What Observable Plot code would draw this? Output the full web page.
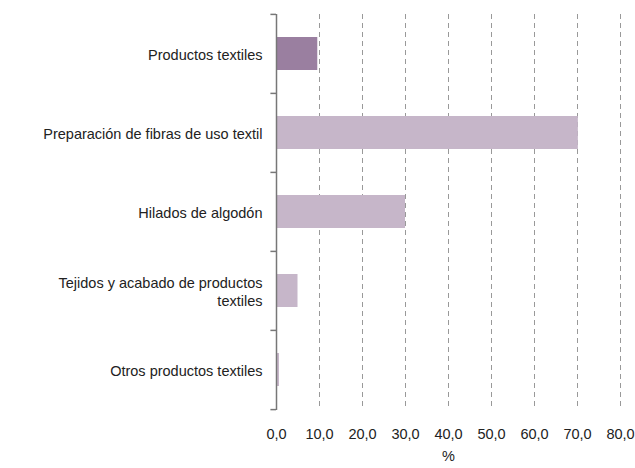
<!DOCTYPE html>
<html><head><meta charset="utf-8">
<script src="https://cdn.jsdelivr.net/npm/d3@7"></script>
<script src="https://cdn.jsdelivr.net/npm/@observablehq/plot@0.6"></script>
<style>body{margin:0;background:#fff}</style>
</head><body><div id="chart"></div>
<script>
const categorias = ['Productos textiles', 'Preparación de fibras de uso textil', 'Hilados de algodón', 'Tejidos y acabado de productos\ntextiles', 'Otros productos textiles']
const valores = [9.6, 70.2, 30.0, 5.0, 0.7]
const ticksX = [0, 10, 20, 30, 40, 50, 60, 70, 80]

const data = categorias.map((c, i) => ({cat: c, val: valores[i], destacado: i === 0}))
const fmt = d => d3.format('.1f')(d).replace('.', ',')
const paso = (468 - 14 - 58) / categorias.length

let chart = Plot.plot({
  width: 635,
  height: 468,
  marginLeft: 276,
  marginRight: 15,
  marginTop: 14,
  marginBottom: 58,
  style: {fontFamily: 'Liberation Sans, Arial, sans-serif', fontSize: '14px', color: '#222'},
  x: {domain: [0, 80], ticks: ticksX},
  y: {domain: categorias, paddingInner: 0.58, paddingOuter: 0.29},
  marks: [
    Plot.gridX(ticksX.slice(1), {stroke: '#999', strokeOpacity: 1, strokeDasharray: '5,4'}),
    Plot.barX(data, {y: 'cat', x: 'val', fill: d => d.destacado ? '#9a7fa0' : '#c6b6c9'}),
    Plot.ruleX([0], {stroke: '#777', strokeWidth: 1.5}),
    Plot.ruleY(categorias, {y: d => d, x1: -1.3, x2: 0, dy: -paso / 2, stroke: '#777', strokeWidth: 1.5}),
    Plot.ruleY(categorias.slice(-1), {y: d => d, x1: -1.3, x2: 0, dy: paso / 2, stroke: '#777', strokeWidth: 1.5}),
    Plot.axisY({tickSize: 0, tickPadding: 14, label: null, fontSize: 14.5, lineHeight: 1.25}),
    Plot.axisX(ticksX, {tickSize: 0, tickPadding: 18, tickFormat: fmt, label: '%', labelAnchor: 'center', labelArrow: 'none', labelOffset: 50, fontSize: 14.5})
  ]
})
d3.select('#chart').append(() => chart)
</script>
</body></html>
